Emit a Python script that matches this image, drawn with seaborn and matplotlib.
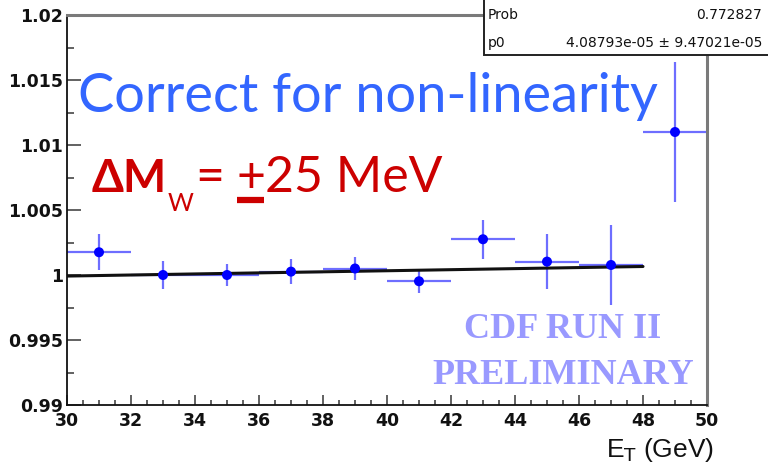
import numpy as np
import matplotlib
matplotlib.use("Agg")
import matplotlib.pyplot as plt
from matplotlib.ticker import MultipleLocator, FixedLocator, FixedFormatter
from matplotlib.patches import Rectangle
from matplotlib.lines import Line2D
import seaborn as sns

# Energy-scale ratio per E_T bin
et_centers = [31, 33, 35, 37, 39, 41, 43, 45, 47, 49]
ratio = [1.00175, 1.0000, 1.0000, 1.00026, 1.0005, 0.99952, 1.00275, 1.00103, 1.00077, 1.0110]
ratio_err = [0.00139, 0.0011, 0.00083, 0.00098, 0.0009, 0.0009, 0.0015, 0.00212, 0.0031, 0.0054]
bin_half_width = 1.0

# Fit result
fit_prob = "0.772827"
fit_p0 = 4.08793e-05
fit_p0_err = 9.47021e-05
fit_range = [30, 48]
fit_pivot = 32

y_tick_values = [0.99, 0.995, 1.0, 1.005, 1.01, 1.015, 1.02]
y_tick_labels = ["0.99", "0.995", "1", "1.005", "1.01", "1.015", "1.02"]
x_tick_values = [30, 32, 34, 36, 38, 40, 42, 44, 46, 48, 50]
x_tick_labels = [str(v) for v in x_tick_values]

sns.set_style("ticks")
plt.rcParams["font.family"] = ["DejaVu Sans"]

W, H = 768, 465
fig = plt.figure(figsize=(W / 100, H / 100), dpi=100)
ax = fig.add_axes([67 / W, 1 - 405 / H, 640 / W, 390 / H])

# data points with bin-width and statistical error bars
ax.errorbar(et_centers, ratio, xerr=bin_half_width, yerr=ratio_err, fmt="none",
            ecolor="#6e6eff", elinewidth=1.6, capsize=0, zorder=2)
sns.scatterplot(x=et_centers, y=ratio, color="#0000ff", s=52, edgecolor="none",
                zorder=4, ax=ax, legend=False)

# linear fit
fit_x = np.array(fit_range, dtype=float)
fit_y = 1.0 + fit_p0 * (fit_x - fit_pivot)
sns.lineplot(x=fit_x, y=fit_y, color="#111111", lw=2.2, ax=ax, zorder=3, legend=False)

ax.set_xlim(30, 50)
ax.set_ylim(0.99, 1.02)
ax.xaxis.set_major_locator(FixedLocator(x_tick_values))
ax.xaxis.set_major_formatter(FixedFormatter(x_tick_labels))
ax.xaxis.set_minor_locator(MultipleLocator(0.5))
ax.yaxis.set_major_locator(FixedLocator(y_tick_values))
ax.yaxis.set_major_formatter(FixedFormatter(y_tick_labels))
ax.yaxis.set_minor_locator(MultipleLocator(0.0025))

ax.tick_params(axis="both", which="both", direction="in", color="#555555", width=1.3,
               top=False, right=False)
ax.tick_params(axis="x", which="major", length=7.5, pad=5)
ax.tick_params(axis="x", which="minor", length=3.8)
ax.tick_params(axis="y", which="major", length=10, pad=3)
ax.tick_params(axis="y", which="minor", length=5)
for lab in ax.get_xticklabels() + ax.get_yticklabels():
    lab.set_fontweight("bold")
    lab.set_fontsize(12.5)
    lab.set_color("#111111")

for side in ["left", "bottom"]:
    ax.spines[side].set_color("#111111")
    ax.spines[side].set_linewidth(1.3)
for side in ["top", "right"]:
    ax.spines[side].set_color("#7a7a7a")
    ax.spines[side].set_linewidth(2.2)

# axis title
fig.text(714 / W, 1 - 457 / H, r"E$_\mathrm{T}$ (GeV)", ha="right", va="baseline",
         fontsize=19, family=["Liberation Sans"], color="#111111")

# fit statistics box
box = Rectangle((484 / W, 1 - 55 / H), 0.5, 0.3, transform=fig.transFigure,
                facecolor="white", edgecolor="#222222", lw=1.4, zorder=6)
fig.add_artist(box)
stat_kw = dict(va="center", fontsize=10, color="#111111", zorder=7)
fig.text(488 / W, 1 - 15 / H, "Prob", ha="left", **stat_kw)
fig.text(762 / W, 1 - 15 / H, fit_prob, ha="right", **stat_kw)
fig.text(488 / W, 1 - 43 / H, "p0", ha="left", **stat_kw)
fig.text(762 / W, 1 - 43 / H, f"{fit_p0:.5e} \u00b1 {fit_p0_err:.5e}", ha="right", **stat_kw)

# annotations
blue = "#3366ff"
red = "#cc0000"
sans = ["Lato", "DejaVu Sans"]
fig.text(78 / W, 1 - 112 / H, "Correct for non-linearity", ha="left", va="baseline",
         fontsize=39, family=sans, color=blue, zorder=8)

renderer = fig.canvas.get_renderer()


def chain(x_px, base_px, s, **kw):
    """Place a text piece at x_px and return the pixel x of its right edge."""
    t = fig.text(x_px / W, 1 - base_px / H, s, ha="left", va="baseline",
                 color=red, zorder=8, family=sans, **kw)
    return t.get_window_extent(renderer=renderer).x1


x = chain(92, 192, "\u0394M", fontsize=33, fontweight="bold")
x = chain(x, 211, "W", fontsize=18)
x = chain(x + 2, 192, "=", fontsize=36)
x_plus = x + 12
x_end = chain(x_plus, 192, "+", fontsize=36)
fig.add_artist(Line2D([x_plus + 1, x_end - 1], [H - 200, H - 200], transform=None,
                      color=red, lw=4.5, solid_capstyle="butt", zorder=8))
chain(x_end, 192, "25 MeV", fontsize=36)

serif = ["Liberation Serif", "DejaVu Serif"]
fig.text(563 / W, 1 - 338 / H, "CDF RUN II", ha="center", va="baseline", fontsize=26,
         family=serif, fontweight="bold", color="#9999ff", zorder=8)
fig.text(563 / W, 1 - 384 / H, "PRELIMINARY", ha="center", va="baseline", fontsize=26,
         family=serif, fontweight="bold", color="#9999ff", zorder=8)

fig.savefig("out.png", dpi=100, facecolor="white")
